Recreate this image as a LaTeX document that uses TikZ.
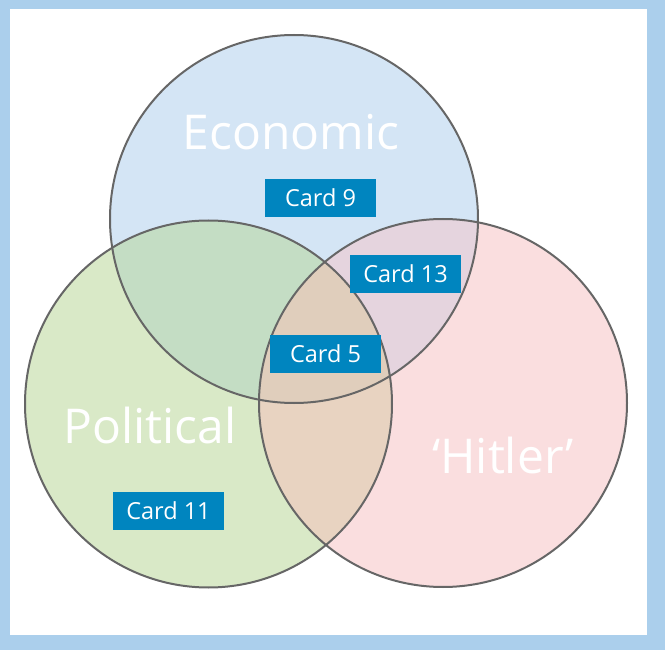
\documentclass[tikz,border=0pt]{standalone}
\usepackage{fontspec}
\setmainfont{Open Sans}
\definecolor{frame}{HTML}{ABCFEC}
\definecolor{cblue}{HTML}{D4E5F5}
\definecolor{cgreen}{HTML}{D9E9C7}
\definecolor{cpink}{HTML}{FADEDF}
\definecolor{cbg}{HTML}{C4DDC4}
\definecolor{cbp}{HTML}{E5D4DE}
\definecolor{cgp}{HTML}{E8D3C1}
\definecolor{call}{HTML}{E0CEBC}
\definecolor{cardblue}{HTML}{0085BF}
\definecolor{ring}{HTML}{666666}
\begin{document}
\begin{tikzpicture}[x=1pt,y=-1pt,
  card/.style={fill=cardblue,text=white,minimum width=111pt,minimum height=38pt,inner sep=0pt,font=\fontsize{23.5}{26}\selectfont},
  big/.style={text=white,inner sep=0pt,font=\fontsize{48}{54}\selectfont},
  ringline/.style={draw=ring,line width=2pt}]
\useasboundingbox (0,0) rectangle (665,650);
\fill[frame] (0,0) rectangle (665,650);
\fill[white] (10,9) rectangle (647,635);
\def\circE{(294,219) circle (184)}
\def\circP{(208.5,404) circle (183.5)}
\def\circH{(443,403) circle (184)}
% single fills
\fill[cblue] \circE;
\fill[cgreen] \circP;
\fill[cpink] \circH;
% pairwise
\begin{scope}\clip \circE; \fill[cbg] \circP; \fill[cbp] \circH;\end{scope}
\begin{scope}\clip \circP; \fill[cgp] \circH;\end{scope}
\begin{scope}\clip \circE; \clip \circP; \fill[call] \circH;\end{scope}
% outlines
\draw[ringline] \circE;
\draw[ringline] \circP;
\draw[ringline] \circH;
% labels
\node[big] (econ) at (291,132) {Economic};
\node[big] (pol) at (150,425) {Political};
\node[big] (hit) at (503,455) {‘Hitler’};
\node[card] (c9) at (320.5,198) {Card 9\hspace{9pt}};
\node[card] (c13) at (405.5,274) {Card 13\hspace{9pt}};
\node[card] (c5) at (325.5,353.5) {Card 5\hspace{9pt}};
\node[card] (c11) at (168.5,510.5) {Card 11\hspace{9pt}};
\end{tikzpicture}
\end{document}
